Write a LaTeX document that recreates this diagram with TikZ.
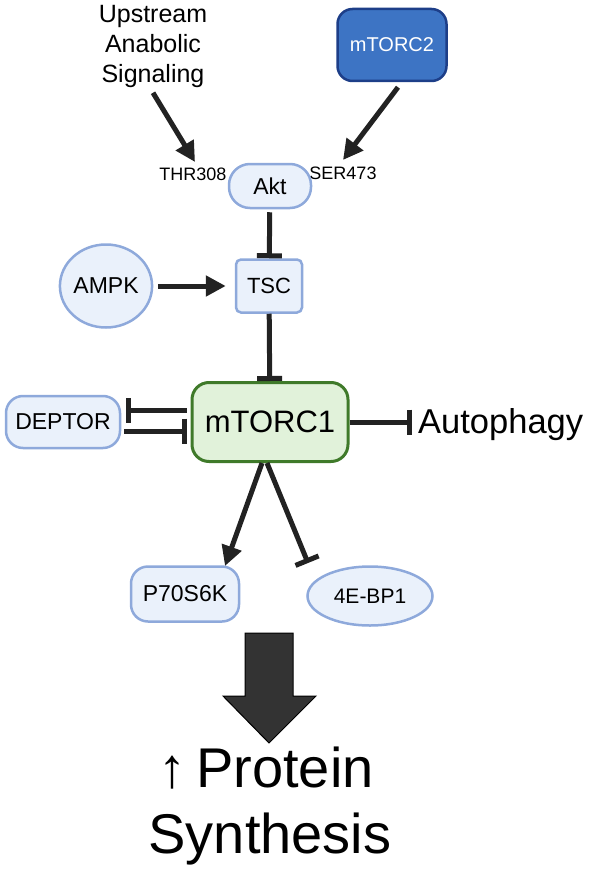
\documentclass[tikz,border=0pt]{standalone}
\usepackage{fontspec}
\setmainfont{Liberation Sans}
\usetikzlibrary{positioning,arrows.meta,shapes.geometric}
\definecolor{protAzul}{HTML}{EAF1FB}
\definecolor{protBorde}{HTML}{8EA9DB}
\definecolor{mtorAzul}{HTML}{3D74C4}
\definecolor{mtorBorde}{HTML}{1D3E88}
\definecolor{mtorVerde}{HTML}{E1F2DA}
\definecolor{verdeBorde}{HTML}{3F7A2A}
\definecolor{flechaGris}{HTML}{222222}
\definecolor{flechaGrande}{HTML}{333333}
\tikzset{
  proteina/.style={rectangle, rounded corners=17pt, draw=protBorde, line width=2.5pt,
    fill=protAzul, inner sep=0pt, align=center},
  proteinaOval/.style={ellipse, draw=protBorde, line width=2.5pt, fill=protAzul,
    inner sep=0pt},
  complejoUno/.style={rectangle, rounded corners=17pt, draw=verdeBorde, line width=3pt,
    fill=mtorVerde, inner sep=0pt, minimum width=156pt, minimum height=79pt,
    font=\fontsize{31}{36}\selectfont},
  complejoDos/.style={rectangle, rounded corners=15pt, draw=mtorBorde, line width=2.5pt,
    fill=mtorAzul, text=white, inner sep=0pt, minimum width=109pt, minimum height=72pt,
    font=\fontsize{20}{24}\selectfont},
  sitio/.style={inner sep=0pt, font=\fontsize{18}{22}\selectfont},
  activa/.style={-{Triangle[length=20pt,width=20pt]}, line width=5pt, flechaGris},
  inhibe/.style={-{Bar[width=25pt]}, line width=5pt, flechaGris},
}

\begin{document}
\begin{tikzpicture}[x=1pt,y=-1pt]
  \useasboundingbox (0,0) rectangle (590,872);

  % senales de entrada
  \node[inner sep=0pt, align=center, anchor=north, font=\fontsize{25}{30}\selectfont]
        (upstream) at (153,5) {Upstream\\Anabolic\\Signaling};
  \node[complejoDos] (mtorc2) at (392,45) {mTORC2};
  \node[sitio, anchor=base] (thr) at (193,180) {THR308};
  \node[sitio, anchor=base] (ser) at (343,179) {SER473};
  \coordinate (thrtip) at (195,162);
  \coordinate (sertip) at (343,160);

  % eje Akt - TSC - mTORC1
  \node[proteina, rounded corners=21pt, minimum width=82pt, minimum height=44pt,
        font=\fontsize{23}{28}\selectfont] (akt) at (270,186) {Akt};
  \node[proteina, rounded corners=5pt, minimum width=66pt, minimum height=53pt,
        font=\fontsize{22}{26}\selectfont] (tsc) at (269,286) {TSC};
  \node[proteinaOval, minimum width=89pt, minimum height=83pt,
        font=\fontsize{23}{28}\selectfont] (ampk) at (106,286) {AMPK};
  \node[complejoUno] (mtorc1) at (270,422) {mTORC1};
  \node[proteina, minimum width=114pt, minimum height=52pt,
        font=\fontsize{23}{28}\selectfont] (deptor) at (63,422) {DEPTOR};
  \node[inner sep=0pt, anchor=base west, font=\fontsize{34.5}{40}\selectfont]
        (autofagia) at (418,433) {Autophagy};

  % efectores
  \node[proteina, minimum width=108pt, minimum height=55pt,
        font=\fontsize{23}{28}\selectfont] (p70) at (185,594) {P70S6K};
  \node[proteinaOval, minimum width=125pt, minimum height=59pt,
        font=\fontsize{21}{26}\selectfont] (ebp) at (370,596) {4E-BP1};
  \coordinate (p70tip) at (225,566);
  \coordinate (ebptip) at (308,563);

  % resultado
  \node[inner sep=0pt, anchor=base, font=\fontsize{56}{66}\selectfont]
        (prot1) at (266,787) {↑\kern10pt Protein};
  \node[inner sep=0pt, anchor=base, font=\fontsize{56}{66}\selectfont]
        (prot2) at (270,853) {Synthesis};

  \draw[activa] (upstream.south) ++(0,5) -- (thrtip);
  \draw[activa] ([xshift=6pt,yshift=-5pt]mtorc2.south) -- (sertip);
  \draw[inhibe, shorten <=3pt] (akt) -- (tsc);
  \draw[activa, shorten <=5pt, shorten >=9pt] (ampk.east) -- (tsc.west);
  \draw[inhibe] (tsc) -- (mtorc1);
  \draw[inhibe, shorten <=4pt, shorten >=5pt] ([yshift=12pt]mtorc1.west) -- ([yshift=12pt]deptor.east);
  \draw[inhibe, shorten <=3pt, shorten >=4pt] ([yshift=-9pt]deptor.east) -- ([yshift=-9pt]mtorc1.west);
  \draw[inhibe, shorten >=6pt] (mtorc1.east) -- (autofagia.west |- mtorc1.east);
  \draw[activa] ([xshift=-8pt]mtorc1.south) -- (p70tip);
  \draw[inhibe] ([xshift=-3pt]mtorc1.south) -- (ebptip);
  \draw[draw=black, fill=flechaGrande, line width=1pt]
    (245,633) -- (293,633) -- (293,696) -- (316,696) -- (269,743)
    -- (223,696) -- (245,696) -- cycle;
\end{tikzpicture}
\end{document}
